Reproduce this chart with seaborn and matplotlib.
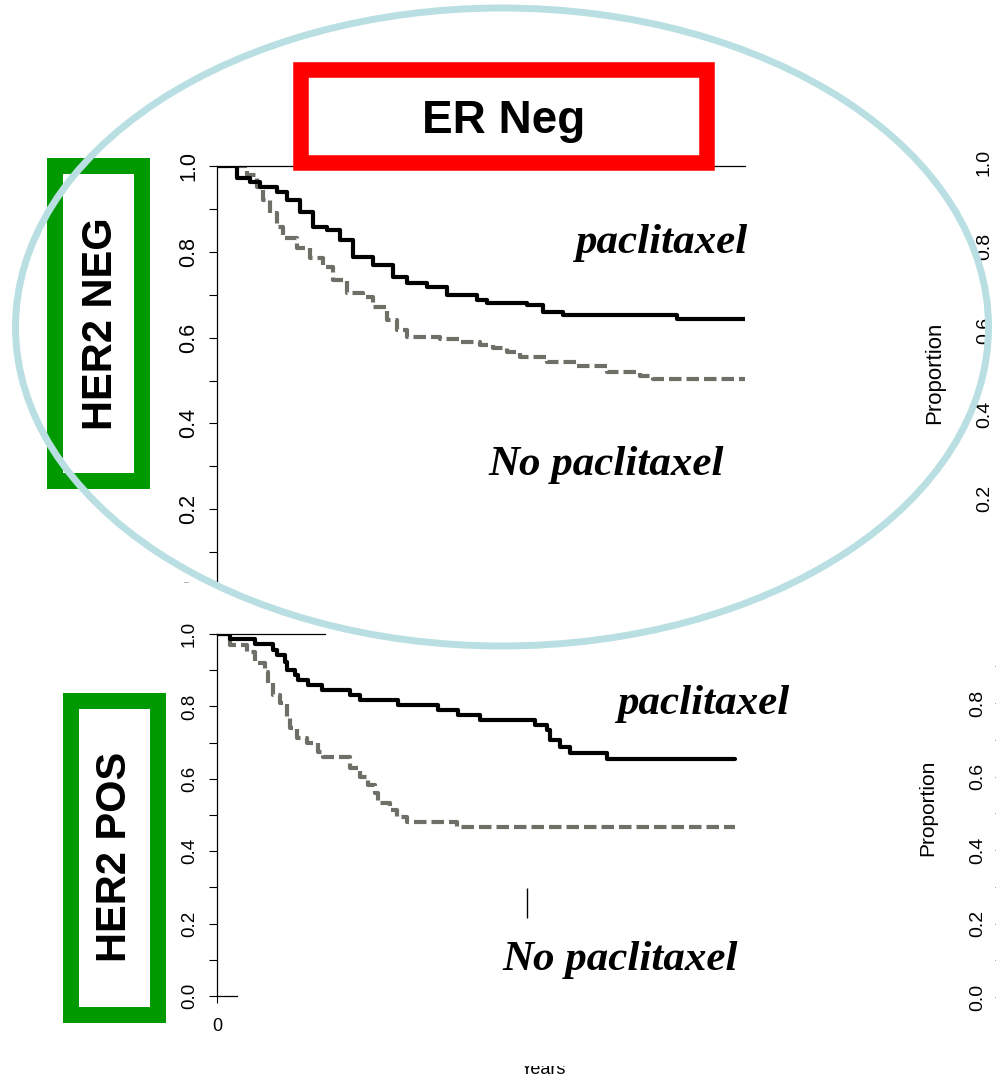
import matplotlib.pyplot as plt
from matplotlib.patches import Rectangle, Ellipse
import numpy as np
import pandas as pd
import seaborn as sns

sns.set_theme(style="white")
plt.rcParams['font.family'] = ['Liberation Sans', 'DejaVu Sans']
plt.rcParams['text.color'] = 'black'
plt.rcParams['axes.labelcolor'] = 'black'
plt.rcParams['xtick.color'] = 'black'
plt.rcParams['ytick.color'] = 'black'

W, H = 996, 1084

# -------------------------------------------------------------------
# Kaplan-Meier curves (years, proportion alive)
# -------------------------------------------------------------------
neg_pac_t = [0, 0.38, 0.63, 0.81, 1.14, 1.33, 1.57, 1.82, 2.08, 2.33, 2.58, 2.95,
             3.33, 3.60, 3.98, 4.36, 4.92, 5.11, 5.87, 6.17, 6.55, 8.71, 10.0]
neg_pac_s = [1.0, 0.972, 0.963, 0.951, 0.940, 0.921, 0.893, 0.858, 0.851, 0.828, 0.788, 0.769,
             0.741, 0.727, 0.718, 0.699, 0.688, 0.681, 0.676, 0.660, 0.653, 0.643, 0.643]

neg_nopac_t = [0, 0.57, 0.76, 0.87, 1.00, 1.14, 1.25, 1.52, 1.76, 2.01, 2.20, 2.46, 2.77,
               2.95, 3.22, 3.41, 3.60, 4.22, 4.60, 4.98, 5.23, 5.49, 5.74, 6.25, 6.82,
               7.39, 8.01, 8.26, 10.0]
neg_nopac_s = [1.0, 0.979, 0.951, 0.921, 0.890, 0.858, 0.832, 0.809, 0.786, 0.765, 0.734, 0.704, 0.695,
               0.671, 0.641, 0.618, 0.601, 0.597, 0.590, 0.583, 0.576, 0.566, 0.555, 0.543, 0.534,
               0.520, 0.510, 0.503, 0.503]

pos_pac_t = [0, 0.25, 0.72, 1.06, 1.14, 1.29, 1.33, 1.48, 1.53, 1.72, 1.99, 2.52,
             2.71, 3.43, 4.19, 4.56, 4.98, 6.02, 6.25, 6.31, 6.50, 6.69, 7.39, 9.81]
pos_pac_s = [1.0, 0.986, 0.972, 0.956, 0.942, 0.923, 0.901, 0.887, 0.873, 0.859, 0.845, 0.831,
             0.818, 0.804, 0.790, 0.776, 0.762, 0.749, 0.735, 0.707, 0.688, 0.671, 0.655, 0.655]

pos_nopac_t = [0, 0.25, 0.57, 0.72, 0.91, 0.97, 1.06, 1.19, 1.33, 1.38, 1.52, 1.71,
               1.91, 2.01, 2.52, 2.71, 2.86, 2.99, 3.05, 3.28, 3.41, 3.60, 4.55, 9.81]
pos_nopac_s = [1.0, 0.970, 0.950, 0.920, 0.895, 0.865, 0.831, 0.809, 0.771, 0.740, 0.713, 0.699,
               0.674, 0.660, 0.630, 0.605, 0.583, 0.561, 0.533, 0.514, 0.494, 0.481, 0.467, 0.467]

arm_order = ['No paclitaxel', 'paclitaxel']
arm_colors = {'paclitaxel': 'black', 'No paclitaxel': '#6f6f67'}
arm_dashes = {'paclitaxel': '', 'No paclitaxel': (3, 1.2)}

y_major = [0.0, 0.2, 0.4, 0.6, 0.8, 1.0]
y_minor = [0.1, 0.3, 0.5, 0.7, 0.9]
y_labels = ['0.0', '0.2', '0.4', '0.6', '0.8', '1.0']

# frame pieces that survive in the picture (in years)
top_rule_end = {'HER2 NEG': 10.0, 'HER2 POS': 2.05}
bottom_rule_end = 0.38
stray_tick_x, stray_tick_y = [5.87], [0.215, 0.298]

frames = []
for panel, arm, t, s in [('HER2 NEG', 'paclitaxel', neg_pac_t, neg_pac_s),
                         ('HER2 NEG', 'No paclitaxel', neg_nopac_t, neg_nopac_s),
                         ('HER2 POS', 'paclitaxel', pos_pac_t, pos_pac_s),
                         ('HER2 POS', 'No paclitaxel', pos_nopac_t, pos_nopac_s)]:
    frames.append(pd.DataFrame({'years': t, 'survival': s, 'panel': panel, 'arm': arm}))
km = pd.concat(frames, ignore_index=True)


def box(left, top, right, bottom):
    # pixel box -> figure fraction [l, b, w, h]
    return [left / W, 1 - bottom / H, (right - left) / W, (bottom - top) / H]


def fx(px):
    return px / W


def fy(py):
    return 1 - py / H


fig = plt.figure(figsize=(W / 100, H / 100), dpi=100)

ax_top = fig.add_axes(box(217, 166, 745, 595))
ax_bot = fig.add_axes(box(217, 634, 745, 996))

for ax, panel, lsize, lpad in [(ax_top, 'HER2 NEG', 15.5, 7), (ax_bot, 'HER2 POS', 13.5, 8)]:
    sns.lineplot(data=km[km.panel == panel], x='years', y='survival',
                 hue='arm', style='arm', hue_order=arm_order, style_order=arm_order,
                 palette=arm_colors, dashes=arm_dashes, drawstyle='steps-post',
                 estimator=None, sort=False, linewidth=3, legend=False, ax=ax)
    ax.set_xlim(0, 10)
    ax.set_ylim(0, 1)
    ax.set_xlabel('')
    ax.set_ylabel('')
    ax.set_facecolor('none')
    for side in ['left', 'top']:
        ax.spines[side].set_color('black')
        ax.spines[side].set_linewidth(0.9)
    ax.spines['right'].set_visible(False)
    ax.spines['top'].set_bounds(0, top_rule_end[panel])
    ax.set_yticks(y_major, y_labels)
    ax.set_yticks(y_minor, minor=True)
    ax.tick_params(axis='y', which='both', left=True, length=5.8, width=0.8,
                   color='black', direction='out', labelsize=lsize, pad=lpad,
                   labelrotation=90, labelcolor='black')
    for lbl in ax.get_yticklabels():
        lbl.set_va('center')

ax_top.spines['bottom'].set_visible(False)
ax_top.set_xticks([])

ax_bot.spines['bottom'].set_color('black')
ax_bot.spines['bottom'].set_linewidth(0.9)
ax_bot.spines['bottom'].set_bounds(0, bottom_rule_end)
ax_bot.set_xticks([0], ['0'])
ax_bot.tick_params(axis='x', bottom=True, length=5, width=0.8, color='black',
                   labelsize=13, pad=11, labelcolor='black')
ax_bot.vlines(stray_tick_x, stray_tick_y[0], stray_tick_y[1], color='black', linewidth=1)

# partially visible neighbouring panels on the right edge
ax_rt = fig.add_axes(box(1005, 162, 1060, 582))
ax_rb = fig.add_axes(box(1003, 629.5, 1060, 997))
for ax, ticks, minor, size, pad, lab_size, lab_xy in [
        (ax_rt, y_major[1:], [], 14, 2.9, 16, (945, 373)),
        (ax_rb, y_major[:-1], y_minor, 14, 6.5, 15, (937.7, 808))]:
    ax.set_ylim(0, 1)
    ax.set_xticks([])
    ax.set_yticks(ticks, [f'{v:.1f}' for v in ticks])
    ax.set_yticks(minor, minor=True)
    ax.tick_params(axis='y', which='both', left=True, length=5.8, width=0.8,
                   color='#555555', labelsize=size, pad=pad, labelrotation=90,
                   labelcolor='black')
    for lbl in ax.get_yticklabels():
        lbl.set_va('center')
    ax.set_ylabel('Proportion', fontsize=lab_size, color='black')
    ax.yaxis.set_label_coords(fx(lab_xy[0]), fy(lab_xy[1]), transform=fig.transFigure)

# white masks where the original screenshot was cropped
fig.add_artist(Rectangle((fx(150), fy(614)), fx(262) - fx(150), fy(583) - fy(614),
                         transform=fig.transFigure, facecolor='white', edgecolor='none', zorder=2))

# coloured call-out boxes and ellipse
fig.add_artist(Rectangle((fx(301), fy(163)), fx(707) - fx(301), fy(70.5) - fy(163),
                         transform=fig.transFigure, facecolor='white', edgecolor='#ff0000',
                         linewidth=11.2, joinstyle='miter', zorder=3))
for l, t, r, b in [(55, 166, 141.5, 481), (71, 700.5, 158, 1015)]:
    fig.add_artist(Rectangle((fx(l), fy(b)), fx(r) - fx(l), fy(t) - fy(b),
                             transform=fig.transFigure, facecolor='white', edgecolor='#009900',
                             linewidth=11.5, joinstyle='miter', zorder=3))

fig.text(fx(504), fy(133), 'ER Neg', ha='center', va='baseline', fontsize=33,
         fontweight='bold', color='black', zorder=4)
fig.text(fx(100.5), fy(323.5), 'HER2 NEG', ha='center', va='center', rotation=90,
         fontsize=30, fontweight='bold', color='black', zorder=4)
fig.text(fx(115), fy(857), 'HER2 POS', ha='center', va='center', rotation=90,
         fontsize=30, fontweight='bold', color='black', zorder=4)

serif = ['Liberation Serif', 'DejaVu Serif']
for x, y, s in [(661, 253, 'paclitaxel'), (606, 475, 'No paclitaxel'),
                (703, 714, 'paclitaxel'), (620, 970, 'No paclitaxel')]:
    fig.text(fx(x), fy(y), s, ha='center', va='baseline', fontsize=31, color='black',
             family=serif, style='italic', fontweight='bold', zorder=4)

fig.text(fx(543), fy(1074), 'Years', ha='center', va='baseline', fontsize=13,
         color='black', zorder=3)
fig.add_artist(Rectangle((fx(490), fy(1066)), fx(600) - fx(490), fy(1040) - fy(1066),
                         transform=fig.transFigure, facecolor='white', edgecolor='none', zorder=4))

fig.add_artist(Ellipse((fx(502), fy(327)), fx(973), 638 / H, transform=fig.transFigure,
                       fill=False, edgecolor='#b9dfe3', linewidth=5, zorder=5))

fig.savefig('out.png', dpi=100)
